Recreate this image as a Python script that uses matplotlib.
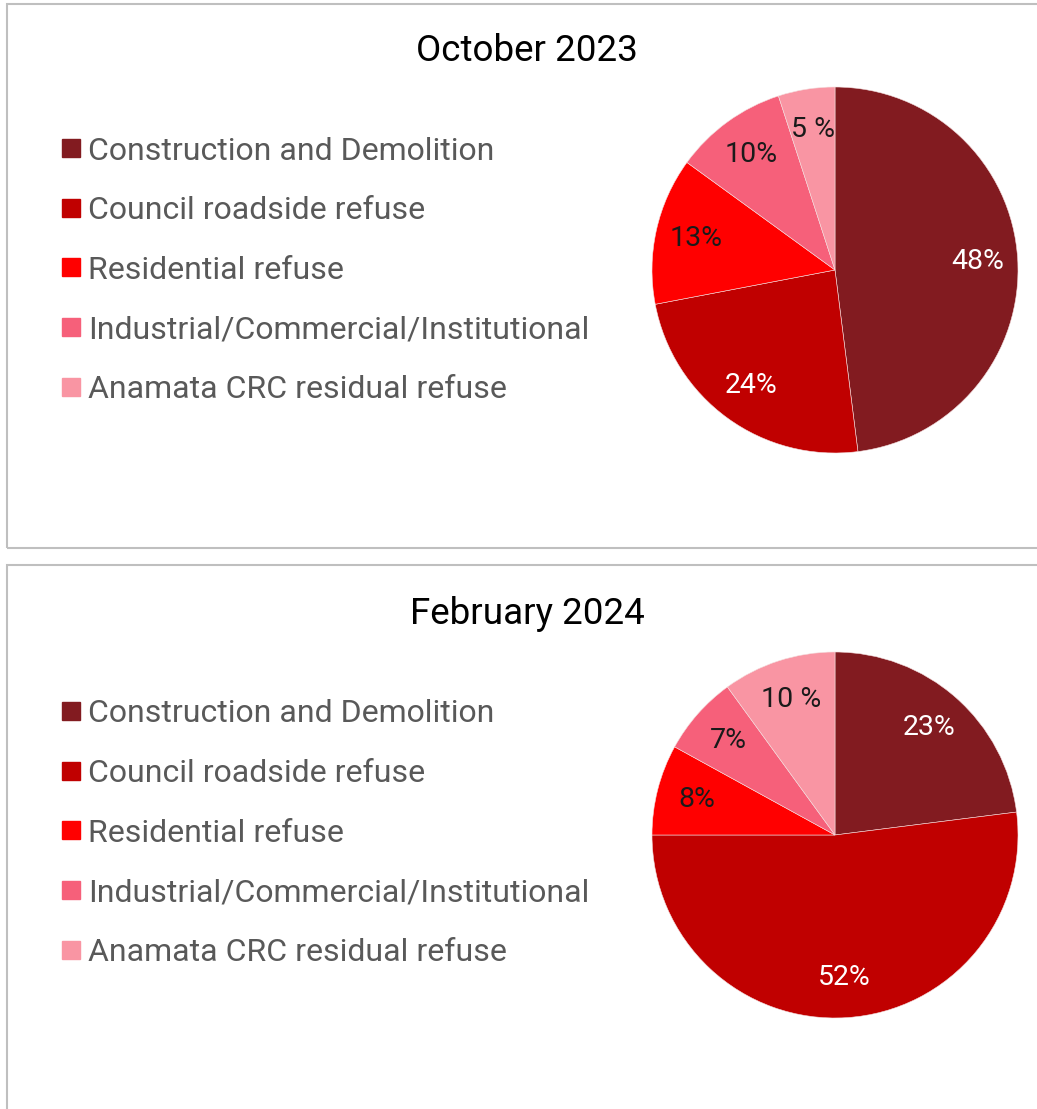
import matplotlib
matplotlib.use('Agg')
import matplotlib.pyplot as plt
import numpy as np
from matplotlib import font_manager
from matplotlib.patches import Rectangle

# ─── Data ─────────────────────────────────────────────────────
categories = ['Construction and Demolition', 'Council roadside refuse',
              'Residential refuse', 'Industrial/Commercial/Institutional',
              'Anamata CRC residual refuse']
colors = ['#821B20', '#C00000', '#FF0000', '#F6607A', '#F995A3']

oct_title = 'October 2023'
oct_values = [48, 24, 13, 10, 5]
oct_labels = ['48%', '24%', '13%', '10%', '5 %']

feb_title = 'February 2024'
feb_values = [23, 52, 8, 7, 10]
feb_labels = ['23%', '52%', '8%', '7%', '10 %']

label_colors = ['white', 'white', '#1a1a1a', '#1a1a1a', '#1a1a1a']

# ─── Font ─────────────────────────────────────────────────────
names = {f.name for f in font_manager.fontManager.ttflist}
FONT = 'Liberation Sans Narrow' if 'Liberation Sans Narrow' in names else 'Roboto'
plt.rcParams['font.family'] = [FONT, 'DejaVu Sans']

W, H = 1037, 1109
fig = plt.figure(figsize=(W / 100, H / 100), dpi=100)


def fx(px):
    return px / W


def fy(py):
    return 1 - py / H


def panel(top, bottom, title_y, legend_y, cy, title, values, labels):
    # border
    fig.patches.append(Rectangle((fx(7), fy(bottom)), fx(1100 - 7), (bottom - top) / H,
                                 transform=fig.transFigure, fill=False,
                                 edgecolor='#BFBFBF', lw=1.5))
    fig.text(fx(527), fy(title_y), title, ha='center', va='center',
             fontsize=26.5, color='black')

    # legend
    for i, (cat, col) in enumerate(zip(categories, colors)):
        yc = legend_y + i * 59.7
        fig.patches.append(Rectangle((fx(62), fy(yc + 6)), fx(18), 18 / H,
                                     transform=fig.transFigure, color=col))
        fig.text(fx(88), fy(yc), cat, ha='left', va='center',
                 fontsize=23, color='#595959')

    # pie
    r = 183
    ax = fig.add_axes([fx(835 - r), fy(cy + r), 2 * r / W, 2 * r / H])
    ax.pie(values, colors=colors, startangle=90, counterclock=False,
           radius=1, wedgeprops=dict(edgecolor='#f4dede', linewidth=0.4))
    total = sum(values)
    cum = 0
    for v, lab, lc in zip(values, labels, label_colors):
        mid = (cum + v / 2) / total * 2 * np.pi
        cum += v
        d = 0.78
        ax.text(d * np.sin(mid), d * np.cos(mid), lab, ha='center', va='center',
                fontsize=20.5, color=lc)
    ax.set_xlim(-1, 1)
    ax.set_ylim(-1, 1)
    ax.set_aspect('equal')
    ax.axis('off')


panel(4, 548, 51, 151, 270, oct_title, oct_values, oct_labels)
panel(565, 1200, 614, 714, 835, feb_title, feb_values, feb_labels)

fig.savefig('out.png', dpi=100, facecolor='white')
